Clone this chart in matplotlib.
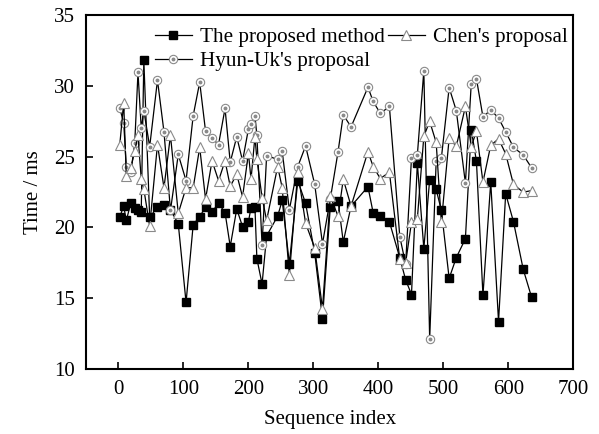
import numpy as np
import matplotlib.pyplot as plt

plt.rcParams['font.family'] = ['Liberation Serif', 'DejaVu Serif']
plt.rcParams['mathtext.fontset'] = 'stix'

# sequence indices shared by the three methods
seq_index = [2, 8, 12, 19, 25, 30, 35, 39, 48, 60, 70, 80, 92, 104, 115, 125,
             134, 144, 154, 164, 172, 182, 191, 200, 204, 210, 213, 221, 228,
             245, 252, 263, 276, 288, 302, 314, 326, 338, 346, 358, 384, 392,
             403, 417, 433, 442, 451, 460, 470, 479, 489, 497, 509, 520, 534,
             543, 551, 561, 573, 585, 596, 608, 623, 636]

proposed = [20.75, 21.5, 20.5, 21.7, 21.35, 21.2, 21.1, 31.8, 20.7, 21.45, 21.6,
            21.25, 20.25, 14.7, 20.2, 20.75, 21.45, 21.1, 21.7, 21.05, 18.65,
            21.3, 20.05, 20.4, 21.4, 21.45, 17.8, 16.0, 19.4,
            20.8, 21.9, 17.45, 23.3, 21.7, 18.2, 13.55, 21.43, 21.86, 18.97,
            21.5, 22.87, 21.03, 20.8, 20.4, 17.85, 16.3, 15.26, 24.55,
            18.5, 23.38, 22.68, 21.2, 16.4, 17.87, 19.2, 26.9, 24.67, 15.2,
            23.2, 13.35, 22.38, 20.4, 17.04, 15.05]

chen = [25.85, 28.8, 23.6, 24.2, 25.4, 26.5, 23.4, 22.7, 20.1, 25.85, 22.8,
        26.5, 21.0, 22.8, 22.8, 25.65, 22.0, 24.7, 23.3, 24.7, 22.9, 23.75,
        22.15, 25.25, 23.4, 26.4, 24.85, 22.1, 20.5,
        24.3, 22.8, 16.65, 23.9, 20.3, 18.55, 14.25, 22.2, 20.78, 23.4, 21.5,
        25.35, 24.3, 23.45, 23.9, 17.75, 17.5, 20.35, 20.6,
        26.43, 27.49, 26.0, 20.35, 26.3, 25.73, 28.54, 25.7, 26.8, 23.2,
        25.8, 26.25, 25.2, 23.03, 22.49, 22.6]

hyun_uk = [28.4, 27.4, 24.3, 23.9, 25.95, 30.95, 27.0, 28.25, 25.7, 30.4, 26.75,
           21.2, 25.15, 23.3, 27.9, 30.25, 26.8, 26.3, 25.85, 28.4, 24.6, 26.4,
           24.7, 26.95, 27.3, 27.9, 26.5, 18.75, 25.07,
           24.8, 25.37, 21.25, 24.3, 25.75, 23.05, 18.85, 22.0, 25.35, 27.95,
           27.1, 29.9, 28.9, 28.05, 28.54, 19.35, 17.4, 24.9, 25.1,
           31.06, 12.1, 24.67, 24.9, 29.87, 28.24, 23.12, 30.15, 30.5, 27.8,
           28.3, 27.72, 26.75, 25.65, 25.12, 24.2]

fig = plt.figure(figsize=(5.99, 4.34), dpi=100)
ax = fig.add_axes([0.1436, 0.1498, 0.8134, 0.8156])

# black squares for the proposed method
l_prop, = ax.plot(seq_index, proposed, color='black', lw=0.9, marker='s',
                  markersize=5.5, markerfacecolor='black',
                  markeredgecolor='black', zorder=3)

# circle with a dot for Hyun-Uk
l_hyun, = ax.plot(seq_index, hyun_uk, color='black', lw=0.9, marker='o',
                  markersize=6, markerfacecolor='white',
                  markeredgecolor='#8a8a8a', markeredgewidth=0.8, zorder=4)
d_hyun, = ax.plot(seq_index, hyun_uk, ls='none', marker='o', markersize=1.8,
                  markerfacecolor='#8a8a8a', markeredgecolor='#8a8a8a',
                  zorder=4)

# open triangles for Chen
l_chen, = ax.plot(seq_index, chen, color='black', lw=0.9, marker='^',
                  markersize=7.5, markerfacecolor='white',
                  markeredgecolor='#8a8a8a', markeredgewidth=0.8, zorder=5)

ax.set_xlim(-50, 700)
ax.set_ylim(10, 35)
ax.set_xticks(np.arange(0, 701, 100))
ax.set_yticks(np.arange(10, 36, 5))
ax.tick_params(direction='in', length=5, width=1.2, labelsize=15,
               top=False, right=False, pad=8)
for s in ax.spines.values():
    s.set_linewidth(1.5)

ax.set_xlabel('Sequence index', fontsize=15, labelpad=8)
ax.set_ylabel('Time / ms', fontsize=15, labelpad=8)

ax.legend([l_prop, (l_hyun, d_hyun), l_chen],
          ['The proposed method', "Hyun-Uk's proposal", "Chen's proposal"],
          ncol=2, loc='upper left', bbox_to_anchor=(0.1415, 0.965),
          frameon=False, fontsize=15.2, borderpad=0,
          handlelength=1.75, handletextpad=0.37, columnspacing=0.15,
          labelspacing=0.2, borderaxespad=0)

fig.savefig('out.png', dpi=100)
